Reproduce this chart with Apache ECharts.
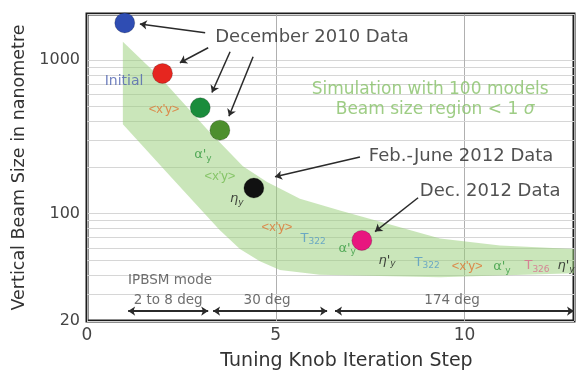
<!DOCTYPE html>
<html><head><meta charset="utf-8">
<script src="https://cdn.jsdelivr.net/npm/echarts@6/dist/echarts.min.js"></script>
<style>html,body{margin:0;padding:0;background:#fff}#c{width:577px;height:376px}</style>
</head><body><div id="c"></div>
<script>
// ---- data ----
const xTicks = [0, 5, 10];
const yTicks = [20, 100, 1000];
const minorGrid = [30, 40, 50, 60, 70, 80, 90, 200, 300, 400, 500, 600, 700, 800, 900];

const pointX = [1.0, 2.0, 3.0, 3.52, 4.42, 7.28];
const pointY = [1750, 820, 490, 350, 147, 67];
const pointColor = ['#2f4db3', '#e6261f', '#1a8c3c', '#4d8f2e', '#111111', '#e8167f'];

const bandTopX = [0.95, 1.99, 3.18, 4.13, 4.77, 5.64, 6.70, 8.03, 9.35, 10.94, 12.9];
const bandTopY = [1318, 748, 355, 204, 161, 125, 105, 85, 69, 62, 59];
const bandLowX = [0.95, 2.20, 2.99, 3.52, 4.05, 4.58, 5.11, 6.17, 9.35, 12.9];
const bandLowY = [382, 176, 108, 78, 59, 49, 43, 40, 38.5, 41];

const arrowX1 = [3.13, 3.21, 3.79, 4.40, 7.23, 8.77];
const arrowY1 = [1507, 1205, 1135, 1053, 234, 127];
const arrowX2 = [1.40, 2.46, 3.31, 3.76, 4.98, 7.63];
const arrowY2 = [1723, 963, 616, 431, 174, 76.5];

const spanX1 = [1.09, 3.34, 6.57];
const spanX2 = [3.21, 6.36, 12.9];
const spanY = 23.2;

const noteText = ['December 2010 Data', 'Feb.-June 2012 Data', 'Dec. 2012 Data',
  'Simulation with 100 models', 'Beam size region < 1 {i|σ}', 'Initial',
  "<x'y>", "α'{s|y}", "<x'y>", "η{s|y}",
  "<x'y>", "T{s|322}", "α'{s|y}", "η'{s|y}", "T{s|322}", "<x'y>", "α'{s|y}", "T{s|326}", "η'{s|y}",
  'IPBSM mode', '2 to 8 deg', '30 deg', '174 deg'];
const noteX = [5.96, 9.91, 10.68, 9.09, 9.22, 0.98,
  2.04, 3.07, 3.52, 3.97,
  5.03, 5.99, 6.89, 7.95, 9.01, 10.07, 10.99, 11.92, 12.69,
  2.2, 2.15, 4.77, 9.67];
const noteY = [1419, 237, 139, 644, 478, 726,
  478, 241, 174, 125,
  82, 69, 59.4, 49.5, 48, 45.6, 44.9, 45.6, 45.6,
  36.8, 27.4, 27.4, 27.4];
const noteKind = ['title', 'title', 'title', 'sim', 'sim', 'initial',
  'orange', 'green', 'lgreen', 'black',
  'orange', 'teal', 'green', 'black', 'teal', 'orange', 'green', 'pink', 'black',
  'mode', 'mode', 'mode', 'mode'];

// ---- styles ----
const kindStyle = {
  title:   {fontFamily: 'DejaVu Sans', fontSize: 18, color: '#262626'},
  sim:     {fontFamily: 'DejaVu Sans', fontSize: 17, color: '#86c066'},
  initial: {fontFamily: 'DejaVu Sans', fontSize: 14, color: '#4f63b0'},
  orange:  {fontFamily: 'Liberation Sans', fontSize: 13, color: '#e0732f'},
  green:   {fontFamily: 'DejaVu Sans', fontSize: 13, color: '#349a3f'},
  lgreen:  {fontFamily: 'Liberation Sans', fontSize: 13, color: '#74bb52'},
  black:   {fontFamily: 'DejaVu Sans', fontSize: 13, color: '#1a1a1a', fontStyle: 'italic'},
  teal:    {fontFamily: 'DejaVu Sans', fontSize: 13, color: '#5299c6'},
  pink:    {fontFamily: 'DejaVu Sans', fontSize: 13, color: '#d86a8b'},
  mode:    {fontFamily: 'DejaVu Sans', fontSize: 13.5, color: '#4a4a4a'}
};

function noteLabel(i) {
  const st = kindStyle[noteKind[i]];
  return Object.assign({
    show: true, position: 'inside', formatter: noteText[i],
    lineHeight: st.fontSize + 3,
    rich: {
      s: {fontFamily: st.fontFamily, fontSize: Math.round(st.fontSize * 0.7), color: st.color, verticalAlign: 'bottom', fontStyle: st.fontStyle || 'normal'},
      i: {fontFamily: st.fontFamily, fontSize: st.fontSize, color: st.color, fontStyle: 'italic'}
    }
  }, st);
}

const chart = echarts.init(document.getElementById('c'), null, {renderer: 'canvas'});
chart.setOption({
  animation: false,
  backgroundColor: '#ffffff',
  grid: {left: 87, right: 3, top: 14, bottom: 53, show: true, borderColor: '#1c1c1c', borderWidth: 3, backgroundColor: 'transparent'},
  xAxis: {
    type: 'value', min: 0, max: 12.9, interval: 5,
    axisLine: {show: false}, axisTick: {show: false},
    axisLabel: {color: '#444', fontFamily: 'DejaVu Sans', fontSize: 17, margin: 6,
      formatter: v => xTicks.indexOf(v) >= 0 ? String(v) : ''},
    splitLine: {show: true, lineStyle: {color: '#b0b0b0', width: 1}},
    name: 'Tuning Knob Iteration Step', nameLocation: 'middle', nameGap: 31,
    nameTextStyle: {color: '#333', fontFamily: 'DejaVu Sans', fontSize: 19, padding: [0, 0, 0, 32]}
  },
  yAxis: {
    type: 'log', logBase: 10, min: 20, max: 2000,
    axisLine: {show: false}, axisTick: {show: false},
    axisLabel: {color: '#444', fontFamily: 'DejaVu Sans', fontSize: 16, margin: 7,
      formatter: v => { const r = Math.round(v); return yTicks.indexOf(r) >= 0 ? String(r) : ''; }},
    splitLine: {show: true, lineStyle: {color: '#d6d6d6', width: 1}},
    name: 'Vertical Beam Size in nanometre', nameLocation: 'middle', nameGap: 58,
    nameTextStyle: {color: '#333', fontFamily: 'DejaVu Sans', fontSize: 17.5}
  },
  series: [
    {
      type: 'line', silent: true, z: 0, data: [], symbol: 'none',
      markLine: {
        silent: true, symbol: 'none', label: {show: false}, z: 0,
        lineStyle: {type: 'solid', color: '#d6d6d6', width: 1},
        data: minorGrid.map(v => ({yAxis: v}))
      }
    },
    {
      type: 'custom', silent: true, z: 2,
      data: [[bandTopX[0], bandTopY[0]]],
      renderItem: (params, api) => {
        const pts = [];
        for (let i = 0; i < bandTopX.length; i++) pts.push(api.coord([bandTopX[i], bandTopY[i]]));
        for (let i = bandLowX.length - 1; i >= 0; i--) pts.push(api.coord([bandLowX[i], bandLowY[i]]));
        return {type: 'polygon', shape: {points: pts}, style: {fill: 'rgba(150,206,118,0.5)'}};
      }
    },
    {
      type: 'lines', coordinateSystem: 'cartesian2d', z: 3, silent: true,
      symbol: ['none', 'arrow'], symbolSize: 7,
      lineStyle: {color: '#2a2a2a', width: 1.5, opacity: 1, curveness: 0, type: 'solid'},
      data: arrowX1.map((x, i) => ({coords: [[x, arrowY1[i]], [arrowX2[i], arrowY2[i]]]}))
    },
    {
      type: 'lines', coordinateSystem: 'cartesian2d', z: 3, silent: true,
      symbol: ['arrow', 'arrow'], symbolSize: 7,
      lineStyle: {color: '#2a2a2a', width: 1.8, opacity: 1, curveness: 0, type: 'solid'},
      data: spanX1.map((x, i) => ({coords: [[x, spanY], [spanX2[i], spanY]]}))
    },
    {
      type: 'scatter', z: 4, symbolSize: 20, silent: true,
      data: pointX.map((x, i) => ({value: [x, pointY[i]], itemStyle: {color: pointColor[i], opacity: 1, borderColor: 'rgba(0,0,0,0.2)', borderWidth: 1}}))
    },
    {
      type: 'scatter', z: 5, symbolSize: 1, silent: true,
      itemStyle: {color: 'rgba(0,0,0,0)'},
      data: noteText.map((t, i) => ({value: [noteX[i], noteY[i]], label: noteLabel(i)}))
    }
  ]
});
</script></body></html>
